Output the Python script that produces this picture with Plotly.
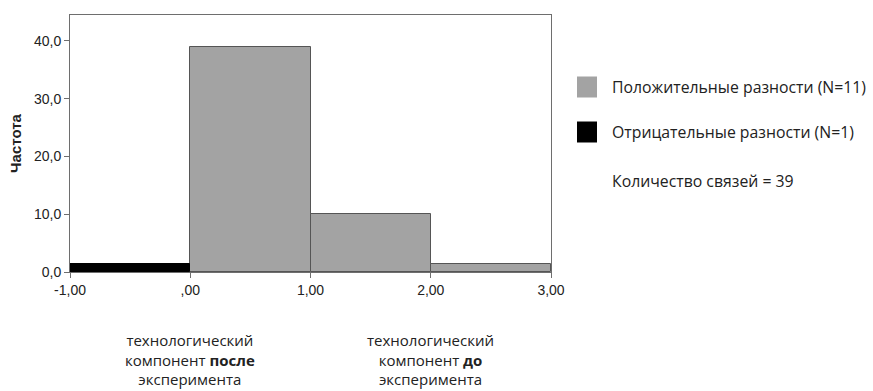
import plotly.graph_objects as go

# Data
bin_centers = [-0.5, 0.5, 1.5, 2.5]
neg_values = [1.4, 0, 0, 0]
pos_values = [0, 39, 10, 1.4]
x_ticks = [-1, 0, 1, 2, 3]
x_ticktext = ["-1,00", ",00", "1,00", "2,00", "3,00"]
y_ticks = [0, 10, 20, 30, 40]
y_ticktext = ["0,0", "10,0", "20,0", "30,0", "40,0"]
legend_labels = ["Положительные разности (N=11)", "Отрицательные разности (N=1)"]
ties_label = "Количество связей = 39"
bottom_labels = [
    (0, ["технологический", "компонент <b>после</b>", "эксперимента"]),
    (2, ["технологический", "компонент <b>до</b>", "эксперимента"]),
]

GRAY = "#a3a3a3"
EDGE = "#555555"
AX = "#6e6e6e"

fig = go.Figure()
fig.add_trace(go.Bar(x=bin_centers[1:], y=pos_values[1:], width=1,
                     marker=dict(color=GRAY, line=dict(color=EDGE, width=1)),
                     showlegend=False))
fig.add_trace(go.Bar(x=bin_centers[:1], y=neg_values[:1], width=1,
                     marker=dict(color="#000000", line=dict(color="#000000", width=1)),
                     showlegend=False))

W, H = 873, 391
L, R, T, B = 70, 322, 15, 119

fig.update_layout(
    width=W, height=H,
    margin=dict(l=L, r=R, t=T, b=B),
    plot_bgcolor="white", paper_bgcolor="white",
    barmode="overlay", bargap=0,
    showlegend=False,
)
tickfont = dict(family="Liberation Sans, Arial", size=14, color="#222")
fig.update_xaxes(range=[-1, 3], tickvals=x_ticks, ticktext=x_ticktext,
                 showgrid=False, zeroline=False, showline=True, linecolor=AX, linewidth=1,
                 mirror=True, ticks="outside", ticklen=5, tickcolor=AX, tickfont=tickfont)
fig.update_yaxes(range=[0, 44.5], tickvals=y_ticks, ticktext=y_ticktext,
                 showgrid=False, zeroline=False, showline=True, linecolor=AX, linewidth=1,
                 mirror=True, ticks="outside", ticklen=5, tickcolor=AX, tickfont=tickfont,
                 title=dict(text="<b>Частота</b>", standoff=8,
                            font=dict(family="Liberation Sans, Arial", size=15, color="#222")))

pw = W - L - R
ph = H - T - B
def px2paper_x(px):
    return (px - L) / pw
def px2paper_y(py):
    return (H - B - py) / ph

TXT = dict(family="Open Sans", size=15.8, color="#222")

legend_colors = [GRAY, "#000000"]
legend_y = [87, 132]
for lab, col, yc in zip(legend_labels, legend_colors, legend_y):
    fig.add_shape(type="rect", xref="paper", yref="paper",
                  x0=px2paper_x(577), x1=px2paper_x(597),
                  y0=px2paper_y(yc - 10.5), y1=px2paper_y(yc + 10.5),
                  fillcolor=col, line=dict(width=0))
    fig.add_annotation(xref="paper", yref="paper", x=px2paper_x(610), y=px2paper_y(yc),
                       text=lab, showarrow=False, xanchor="left", yanchor="middle", font=TXT)
fig.add_annotation(xref="paper", yref="paper", x=px2paper_x(610), y=px2paper_y(181),
                   text=ties_label, showarrow=False, xanchor="left", yanchor="middle", font=TXT)

for xc, lines in bottom_labels:
    fig.add_annotation(xref="x", yref="paper", x=xc, y=px2paper_y(359),
                       text="<br>".join(lines), showarrow=False,
                       xanchor="center", yanchor="middle", align="center",
                       font=dict(family="Open Sans", size=15, color="#222"))

fig.write_html("out.html", config={"displayModeBar": False},
               post_script="document.body.style.margin='0';document.body.style.overflow='hidden';")
